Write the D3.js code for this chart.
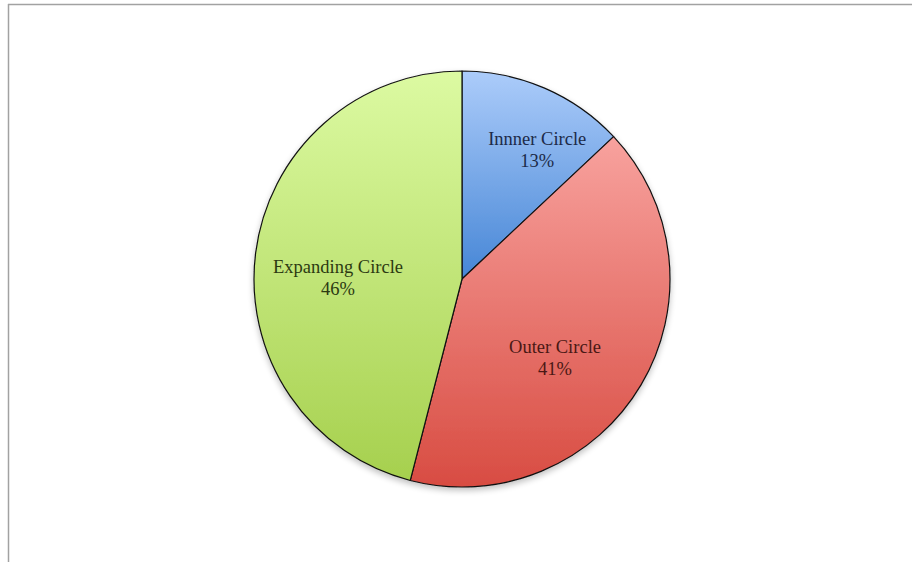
<!DOCTYPE html>
<html>
<head>
<meta charset="utf-8">
<script src="https://cdn.jsdelivr.net/npm/d3@7"></script>
<style>
  body { margin: 0; background: #fff; }
  svg { display: block; }
</style>
</head>
<body>
<div id="chart"></div>
<script>
// chart data
const categories = ["Innner Circle", "Outer Circle", "Expanding Circle"]
const shares = [13, 41, 46]
const percentLabels = ["13%", "41%", "46%"]

// slice colours: top of gradient, bottom of gradient, text colour
const topColors = ["#acccfa", "#f8a29e", "#dcfaa2"]
const bottomColors = ["#4686d6", "#d84c42", "#a6d04e"]
const textColors = ["#1c2a48", "#4a1814", "#2c3a12"]

// label placement nudges (px) from the slice centroid, Excel puts them a bit off-centre
const labelNudges = [[24, -11], [-18, 13], [4, 15]]

const width = 912
const height = 562
const cx = 462
const cy = 279
const radius = 208

const svg = d3.select("#chart")
    .append("svg")
    .attr("width", width)
    .attr("height", height)

const defs = svg.append("defs")

// soft shadow under the pie
const shadow = defs.append("filter")
    .attr("id", "shadow")
    .attr("x", "-10%").attr("y", "-10%")
    .attr("width", "120%").attr("height", "125%")
shadow.append("feGaussianBlur").attr("in", "SourceAlpha").attr("stdDeviation", 3)
shadow.append("feOffset").attr("dx", 0).attr("dy", 3).attr("result", "blur")
shadow.append("feComponentTransfer").append("feFuncA").attr("type", "linear").attr("slope", 0.25)
const merge = shadow.append("feMerge")
merge.append("feMergeNode")
merge.append("feMergeNode").attr("in", "SourceGraphic")

// one vertical gradient per slice
categories.forEach((c, i) => {
    const g = defs.append("linearGradient")
        .attr("id", "grad" + i)
        .attr("x1", 0).attr("y1", 0)
        .attr("x2", 0).attr("y2", 1)
    g.append("stop").attr("offset", "0%").attr("stop-color", topColors[i])
    g.append("stop").attr("offset", "100%").attr("stop-color", bottomColors[i])
})

// frame lines (top and left)
svg.append("line")
    .attr("x1", 8).attr("x2", width)
    .attr("y1", 4.5).attr("y2", 4.5)
    .attr("stroke", "#a2a2a2").attr("stroke-width", 1.5)
svg.append("line")
    .attr("x1", 8.5).attr("x2", 8.5)
    .attr("y1", 4).attr("y2", height)
    .attr("stroke", "#a2a2a2").attr("stroke-width", 1.5)

const data = categories.map((c, i) => ({name: c, value: shares[i], label: percentLabels[i], i: i}))

const pie = d3.pie()
    .value(d => d.value)
    .sort(null)

const arc = d3.arc()
    .innerRadius(0)
    .outerRadius(radius)

const labelArc = d3.arc()
    .innerRadius(radius * 0.62)
    .outerRadius(radius * 0.62)

const g = svg.append("g")
    .attr("transform", "translate(" + cx + "," + cy + ")")

const slices = g.append("g").attr("filter", "url(#shadow)")

slices.selectAll("path")
    .data(pie(data))
    .enter()
    .append("path")
    .attr("d", arc)
    .attr("fill", d => "url(#grad" + d.data.i + ")")
    .attr("stroke", "#111")
    .attr("stroke-width", 1.2)
    .attr("stroke-linejoin", "round")

const labels = g.selectAll(".label")
    .data(pie(data))
    .enter()
    .append("text")
    .attr("class", "label")
    .attr("transform", d => {
        const c = labelArc.centroid(d)
        const n = labelNudges[d.data.i]
        return "translate(" + (c[0] + n[0]) + "," + (c[1] + n[1]) + ")"
    })
    .attr("text-anchor", "middle")
    .attr("font-family", "'Liberation Serif', 'Times New Roman', serif")
    .attr("font-size", 18.5)
    .attr("fill", d => textColors[d.data.i])

labels.append("tspan")
    .attr("x", 0)
    .attr("dy", "-0.25em")
    .text(d => d.data.name)

labels.append("tspan")
    .attr("x", 0)
    .attr("dy", "1.2em")
    .text(d => d.data.label)
</script>
</body>
</html>
